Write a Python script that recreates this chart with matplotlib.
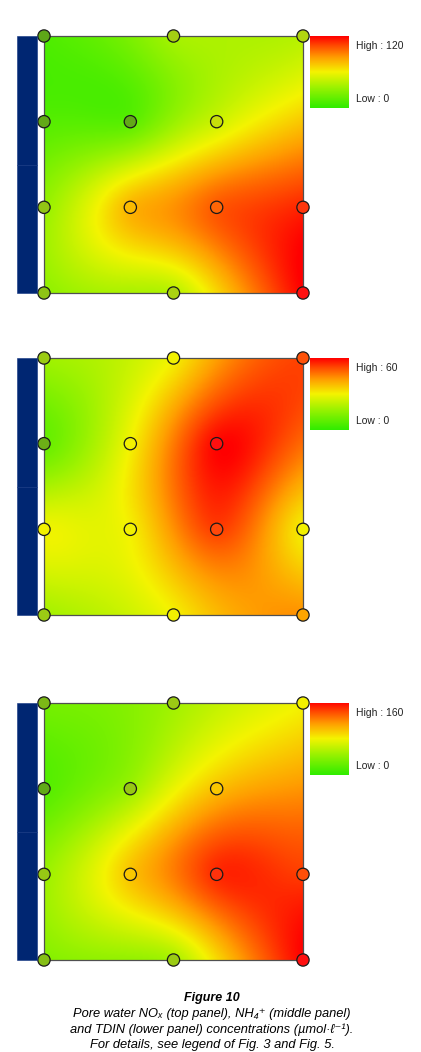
import numpy as np
import matplotlib
matplotlib.use("Agg")
import matplotlib.pyplot as plt
from matplotlib.colors import LinearSegmentedColormap
from matplotlib.patches import Rectangle

plt.rcParams['font.family'] = ['Liberation Sans', 'DejaVu Sans']

# station positions (column, row) on the sampling grid
station_x = [0, 1.5, 3, 0, 1, 2, 0, 1, 2, 3, 0, 1.5, 3]
station_y = [0, 0, 0, 1, 1, 1, 2, 2, 2, 2, 3, 3, 3]

# concentrations (µmol/l) per panel
nox_values = [10, 38, 42, 12, 12, 48, 32, 80, 102, 112, 30, 40, 120]
nh4_values = [18, 30, 53, 8, 30, 60, 30, 30, 54, 30, 18, 30, 44]
tdin_values = [30, 48, 80, 15, 45, 100, 45, 100, 150, 142, 35, 48, 160]

panel_max = [120, 60, 160]
legend_high = ["High : 120", "High : 60", "High : 160"]
legend_low = ["Low : 0", "Low : 0", "Low : 0"]

surf_cmap = LinearSegmentedColormap.from_list(
    "surf", [(0.0, '#30ec00'), (0.28, '#9af200'), (0.5, '#f4f400'),
             (0.7, '#ffa000'), (0.87, '#ff4a00'), (1.0, '#ff0000')])
pt_cmap = LinearSegmentedColormap.from_list(
    "pts", [(0.0, '#46991a'), (0.3, '#9ccb14'), (0.5, '#f2f200'),
            (0.75, '#ffa000'), (1.0, '#ff1010')])

W, H = 421, 1052
fig = plt.figure(figsize=(W / 100, H / 100), dpi=100)
fig.patch.set_facecolor('white')

panel_tops = [36, 358, 703]
panel_h = 257
x0, x1 = 44, 303


def tps(xs, ys, vs, gx, gy, lam=0.05):
    xs = np.asarray(xs, float); ys = np.asarray(ys, float); vs = np.asarray(vs, float)
    n = len(xs)

    def phi(r):
        with np.errstate(divide='ignore', invalid='ignore'):
            out = r ** 2 * np.log(r)
        return np.nan_to_num(out)

    r = np.hypot(xs[:, None] - xs[None, :], ys[:, None] - ys[None, :])
    K = phi(r) + lam * np.eye(n)
    P = np.column_stack([np.ones(n), xs, ys])
    A = np.zeros((n + 3, n + 3))
    A[:n, :n] = K; A[:n, n:] = P; A[n:, :n] = P.T
    b = np.concatenate([vs, np.zeros(3)])
    sol = np.linalg.solve(A, b)
    w, a = sol[:n], sol[n:]
    rg = np.hypot(gx[..., None] - xs, gy[..., None] - ys)
    return phi(rg) @ w + a[0] + a[1] * gx + a[2] * gy


gx, gy = np.meshgrid(np.linspace(0, 3, 300), np.linspace(0, 3, 300))

for i, vals in enumerate([nox_values, nh4_values, tdin_values]):
    top = panel_tops[i]
    ax = fig.add_axes([x0 / W, 1 - (top + panel_h) / H, (x1 - x0) / W, panel_h / H])
    z = np.clip(tps(station_x, station_y, vals, gx, gy) / panel_max[i], 0, 1)
    ax.imshow(z, extent=[0, 3, 3, 0], cmap=surf_cmap, vmin=0, vmax=1,
              interpolation='bilinear', aspect='auto')
    ax.set_xlim(0, 3)
    ax.set_ylim(3, 0)
    ax.set_xticks([]); ax.set_yticks([])
    for s in ax.spines.values():
        s.set_color('#505050'); s.set_linewidth(0.9)
    ax.scatter(station_x, station_y, c=np.array(vals) / panel_max[i], cmap=pt_cmap,
               vmin=0, vmax=1, s=78, edgecolors='#1a1a1a', linewidths=0.9,
               clip_on=False, zorder=5)

    # blue shoreline bar (two segments)
    half = panel_h / 2
    for k in range(2):
        fig.patches.append(Rectangle((17 / W, 1 - (top + (k + 1) * half) / H),
                                     20 / W, half / H, transform=fig.transFigure,
                                     facecolor='#002672', edgecolor='#0f3280',
                                     linewidth=0.4))

    # legend colour bar
    lax = fig.add_axes([310 / W, 1 - (top + 72) / H, 39 / W, 72 / H])
    lax.imshow(np.linspace(1, 0, 200)[:, None], cmap=surf_cmap, aspect='auto',
               extent=[0, 1, 0, 1])
    lax.axis('off')
    fig.text(356 / W, 1 - (top + 10) / H, legend_high[i], fontsize=7.5,
             va='center', ha='left', color='#222222')
    fig.text(356 / W, 1 - (top + 63) / H, legend_low[i], fontsize=7.5,
             va='center', ha='left', color='#222222')

cx = 212 / W
fig.text(cx, 1 - 998 / H, "Figure 10", fontsize=9, fontweight='bold',
         style='italic', ha='center', va='center')
caption = [
    "Pore water NOₓ (top panel), NH₄⁺ (middle panel)",
    "and TDIN (lower panel) concentrations (µmol·ℓ⁻¹).",
    "For details, see legend of Fig. 3 and Fig. 5.",
]
for j, line in enumerate(caption):
    fig.text(cx, 1 - (1014 + 15.5 * j) / H, line, fontsize=9.3, style='italic',
             ha='center', va='center')

fig.savefig("out.png", dpi=100, facecolor='white')
